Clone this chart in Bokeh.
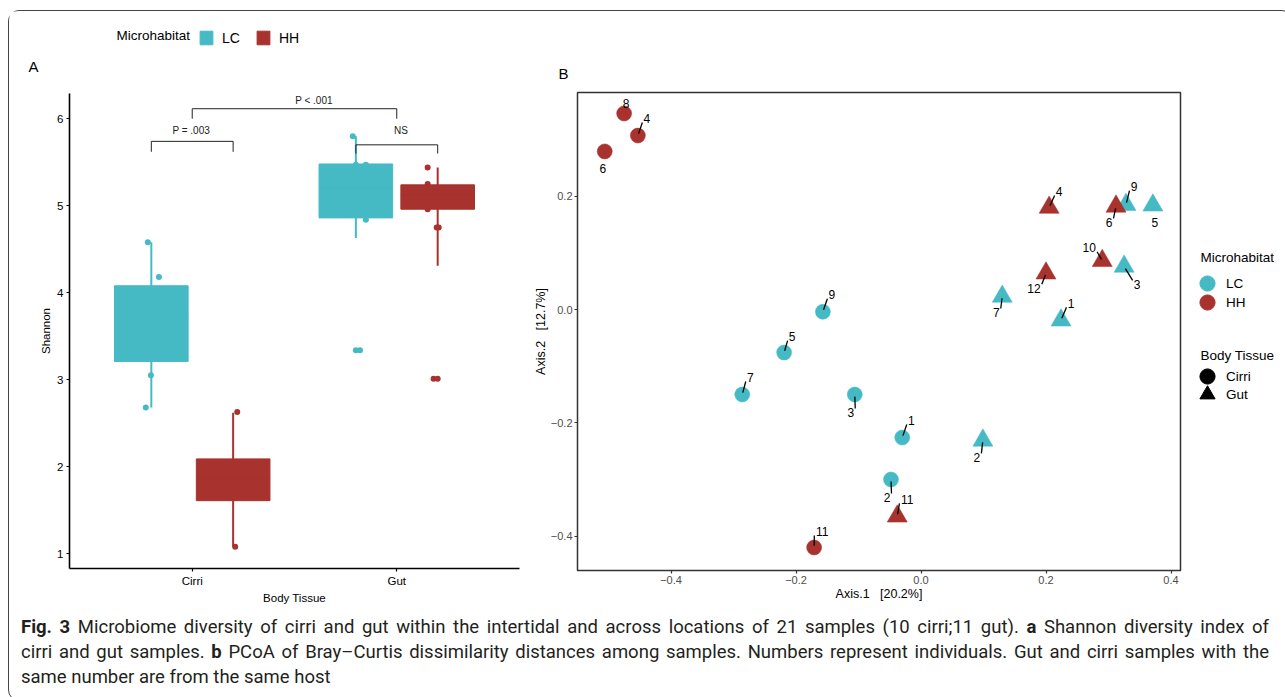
import numpy as np
from bokeh.plotting import figure
from bokeh.models import (ColumnDataSource, Range1d, FixedTicker, Legend, LegendItem,
                          Label, Div)
from bokeh.layouts import row, column
from bokeh.core.properties import value
from bokeh.embed import file_html
from bokeh.resources import INLINE

# ------------------------------------------------------------------ data
tissues = ["Cirri", "Gut"]
habitats = ["LC", "HH"]
hab_colors = ["#45BAC5", "#A8322D"]

# Panel A : Shannon boxplots
box_tissue = ["Cirri", "Cirri", "Gut", "Gut"]
box_habitat = ["LC", "HH", "LC", "HH"]
box_lower = [2.68, 1.08, 4.63, 4.31]
box_q1 = [3.21, 1.61, 4.86, 4.96]
box_median = [3.72, 1.86, 5.20, 5.12]
box_q3 = [4.08, 2.09, 5.48, 5.24]
box_upper = [4.58, 2.62, 5.80, 5.44]

pt_tissue = ["Cirri"] * 6 + ["Cirri"] * 4 + ["Gut"] * 6 + ["Gut"] * 6
pt_habitat = ["LC"] * 6 + ["HH"] * 4 + ["LC"] * 6 + ["HH"] * 6
pt_value = [4.58, 4.18, 3.78, 3.69, 3.05, 2.68,
            2.63, 1.95, 1.72, 1.08,
            5.80, 5.47, 5.47, 5.20, 4.84, 3.34,
            5.44, 5.25, 4.96, 4.75, 4.75, 3.01]
pt_jitter = [-0.017, 0.037, -0.010, 0.020, -0.002, -0.027,
             0.020, 0.000, -0.010, 0.010,
             -0.015, 0.000, 0.049, 0.020, 0.049, 0.020,
             -0.049, -0.049, -0.049, -0.005, 0.005, -0.020]

out_tissue = ["Gut", "Gut"]
out_habitat = ["LC", "HH"]
out_value = [3.34, 3.01]

sig_x0 = [0.8, 1.0, 1.8]
sig_x1 = [1.2, 2.0, 2.2]
sig_y = [5.74, 6.115, 5.70]
sig_tip = [5.62, 6.00, 5.60]
sig_text_x = [0.995, 1.595, 2.02]
sig_text_y = [5.865, 6.207, 5.865]
sig_label = ["P = .003", "P < .001", "NS"]

# Panel B : PCoA (Bray-Curtis)
pc_id = ["8", "4", "6", "9", "5", "7", "3", "1", "2", "11",
         "11", "2", "4", "9", "6", "5", "10", "3", "12", "7", "1"]
pc_habitat = ["HH", "HH", "HH", "LC", "LC", "LC", "LC", "LC", "LC", "HH",
              "HH", "LC", "HH", "LC", "HH", "LC", "HH", "LC", "HH", "LC", "LC"]
pc_tissue = ["Cirri"] * 10 + ["Gut"] * 11
pc_x = [-0.475, -0.453, -0.506, -0.157, -0.219, -0.286, -0.106, -0.030, -0.048, -0.171,
        -0.038, 0.099, 0.205, 0.328, 0.312, 0.371, 0.290, 0.325, 0.200, 0.130, 0.224]
pc_y = [0.346, 0.307, 0.279, -0.004, -0.076, -0.150, -0.150, -0.226, -0.300, -0.420,
        -0.365, -0.231, 0.180, 0.185, 0.182, 0.184, 0.086, 0.076, 0.064, 0.023, -0.019]
# label displacement (repel) in screen pixels
lab_dx = [2, 9, -2, 9, 8, 8, -4, 9, -4, 8,
          10, -6, 10, 8, -7, 2, -13, 13, -12, -6, 10]
lab_dy = [-10, -17, 17, -17, -16, -17, 18, -17, 18, -16,
          -17, 17, -16, -18, 16, 17, -13, 18, 15, 16, -17]

x_ticks = [-0.4, -0.2, 0.0, 0.2, 0.4]
x_tick_labels = ["\u22120.4", "\u22120.2", "0.0", "0.2", "0.4"]
y_ticks = [-0.4, -0.2, 0.0, 0.2]
y_tick_labels = ["\u22120.4", "\u22120.2", "0.0", "0.2"]

caption_lines = [
    "<b>Fig. 3</b> Microbiome diversity of cirri and gut within the intertidal and across locations of 21 samples (10 cirri;11 gut). <b>a</b> Shannon diversity index of",
    "cirri and gut samples. <b>b</b> PCoA of Bray\u2013Curtis dissimilarity distances among samples. Numbers represent individuals. Gut and cirri samples with the",
    "same number are from the same host",
]

# ------------------------------------------------------------------ style
FONT = "Liberation Sans"
col = dict(zip(habitats, hab_colors))
dodge = {"LC": -0.2, "HH": 0.2}
nan = np.array([np.nan])


def deco_figure(w, h):
    f = figure(width=w, height=h, x_range=Range1d(0, 1), y_range=Range1d(0, 1),
               x_axis_type=None, y_axis_type=None, output_backend="svg",
               toolbar_location=None, min_border=0)
    f.outline_line_color = None
    f.grid.visible = False
    f.frame_align = False
    return f


# ------------------------------------------------------------------ panel A header
WA = 518
decoA = deco_figure(WA, 70)
d_box = {h: decoA.vbar(x=nan, top=nan, bottom=nan, width=0.3, fill_color=col[h],
                       line_color=col[h]) for h in habitats}
legA = Legend(items=[LegendItem(label=h, renderers=[d_box[h]]) for h in habitats],
              orientation="horizontal", location=(189, 35), padding=0, margin=0,
              spacing=13, label_standoff=8, glyph_width=16, glyph_height=17,
              background_fill_alpha=0, border_line_color=None,
              label_text_font=FONT, label_text_font_size="14px", label_text_color="black")
decoA.add_layout(legA)
decoA.add_layout(Label(x=107, y=46, x_units="screen", y_units="screen", text="Microhabitat",
                       text_baseline="middle", text_font=FONT, text_font_size="13.5px",
                       text_color="black"))
decoA.add_layout(Label(x=19, y=15, x_units="screen", y_units="screen", text="A",
                       text_baseline="middle", text_font=FONT, text_font_size="15px",
                       text_color="black"))

# ------------------------------------------------------------------ panel A
HA = 525
pA = figure(width=WA, height=HA, x_range=Range1d(0.4, 2.6), y_range=Range1d(0.83, 6.29),
            output_backend="svg", toolbar_location=None,
            min_border_left=60, min_border_right=8, min_border_top=12, min_border_bottom=38)
pA.outline_line_color = None
pA.grid.visible = False
pA.frame_align = False

for h in habitats:
    c = col[h]
    ip = [i for i in range(len(pt_value)) if pt_habitat[i] == h]
    pA.scatter(x=[tissues.index(pt_tissue[i]) + 1 + dodge[h] + pt_jitter[i] for i in ip],
               y=[pt_value[i] for i in ip], size=6, color=c, line_color=None)
    io = [i for i in range(len(out_value)) if out_habitat[i] == h]
    pA.scatter(x=[tissues.index(out_tissue[i]) + 1 + dodge[h] for i in io],
               y=[out_value[i] for i in io], size=6, color=c, line_color=None)
    ib = [i for i in range(len(box_q1)) if box_habitat[i] == h]
    xs = [tissues.index(box_tissue[i]) + 1 + dodge[h] for i in ib]
    src = ColumnDataSource(dict(
        x=xs, xl=[x - 0.18 for x in xs], xr=[x + 0.18 for x in xs],
        lower=[box_lower[i] for i in ib], q1=[box_q1[i] for i in ib],
        med=[box_median[i] for i in ib], q3=[box_q3[i] for i in ib],
        upper=[box_upper[i] for i in ib]))
    pA.segment(x0="x", y0="lower", x1="x", y1="upper", source=src, line_color=c, line_width=2)
    pA.vbar(x="x", width=0.36, bottom="q1", top="q3", source=src,
            fill_color=c, line_color=c, line_width=1)
    pA.segment(x0="xl", y0="med", x1="xr", y1="med", source=src, line_color=c, line_width=1)

# significance brackets
pA.multi_line(xs=[[a, a, b, b] for a, b in zip(sig_x0, sig_x1)],
              ys=[[t, y, y, t] for y, t in zip(sig_y, sig_tip)],
              line_color="#222222", line_width=1)
pA.text(x=sig_text_x, y=sig_text_y, text=sig_label, text_align="center",
        text_baseline="middle", text_font=value(FONT), text_font_size="10px",
        text_color="#222222")

for ax in (pA.xaxis[0], pA.yaxis[0]):
    ax.axis_line_color = "black"
    ax.axis_line_width = 1.6
    ax.major_tick_line_color = "black"
    ax.major_tick_line_width = 1.2
    ax.major_tick_out = 3
    ax.major_tick_in = 0
    ax.minor_tick_line_color = None
    ax.major_label_text_font = FONT
    ax.major_label_text_font_size = "11.5px"
    ax.major_label_text_color = "black"
    ax.major_label_standoff = 3
    ax.axis_label_text_font = FONT
    ax.axis_label_text_font_size = "11.5px"
    ax.axis_label_text_font_style = "normal"
    ax.axis_label_text_color = "black"
    ax.axis_label_standoff = 2
pA.yaxis.ticker = FixedTicker(ticks=[1, 2, 3, 4, 5, 6])
pA.xaxis.ticker = FixedTicker(ticks=[i + 1 for i in range(len(tissues))])
pA.xaxis.major_label_overrides = {i + 1: t for i, t in enumerate(tissues)}
pA.xaxis.axis_label = "Body Tissue"
pA.yaxis.axis_label = "Shannon"

# ------------------------------------------------------------------ panel B header
WB = 658
decoB = deco_figure(WB, 70)
decoB.add_layout(Label(x=31, y=8, x_units="screen", y_units="screen", text="B",
                       text_baseline="middle", text_font=FONT, text_font_size="15px",
                       text_color="black"))

# ------------------------------------------------------------------ panel B
B_l, B_r, B_t, B_b = 50, 5, 11, 36
xr = (-0.5496, 0.4152)
yr = (-0.4606, 0.383)
pB = figure(width=WB, height=HA, x_range=Range1d(*xr), y_range=Range1d(*yr),
            output_backend="svg", toolbar_location=None,
            min_border_left=B_l, min_border_right=B_r, min_border_top=B_t, min_border_bottom=B_b)
pB.outline_line_color = "#333333"
pB.outline_line_width = 1.5
pB.grid.visible = False
pB.frame_align = False

marker_of = {"Cirri": "circle", "Gut": "triangle"}
size_of = {"Cirri": 15, "Gut": 20}
srcB = ColumnDataSource(dict(
    x=pc_x, y=pc_y, id=pc_id,
    color=[col[h] for h in pc_habitat],
    marker=[marker_of[t] for t in pc_tissue],
    size=[size_of[t] for t in pc_tissue],
    dx=lab_dx, dy=lab_dy))
pB.scatter(x="x", y="y", marker="marker", size="size", fill_color="color",
           line_color="color", line_alpha=0.5, source=srcB)

# repel leader segments
fx = (WB - B_l - B_r) / (xr[1] - xr[0])
fy = (HA - B_t - B_b) / (yr[1] - yr[0])
sx0, sy0, sx1, sy1 = [], [], [], []
for x, y, t, dx, dy in zip(pc_x, pc_y, pc_id, lab_dx, lab_dy):
    if abs(dx) < 4:
        continue
    hw = len(t) * 3.3 + 1.2
    ex = dx - np.sign(dx) * hw
    ey = dy - np.sign(dy) * 4
    sx0.append(x + 0.15 * ex / fx); sy0.append(y - 0.15 * ey / fy)
    sx1.append(x + ex / fx); sy1.append(y - ey / fy)
pB.segment(x0=sx0, y0=sy0, x1=sx1, y1=sy1, line_color="black", line_width=1.3)
pB.text(x="x", y="y", text="id", x_offset="dx", y_offset="dy", source=srcB,
        text_align="center", text_baseline="middle", text_font=value(FONT),
        text_font_size="12px", text_color="black")

for ax in (pB.xaxis[0], pB.yaxis[0]):
    ax.axis_line_color = None
    ax.major_tick_line_color = "#333333"
    ax.major_tick_line_width = 1.2
    ax.major_tick_out = 3
    ax.major_tick_in = 0
    ax.minor_tick_line_color = None
    ax.major_label_text_font = FONT
    ax.major_label_text_font_size = "11px"
    ax.major_label_text_color = "#4D4D4D"
    ax.major_label_standoff = 2
    ax.axis_label_text_font = FONT
    ax.axis_label_text_font_size = "12.5px"
    ax.axis_label_text_font_style = "normal"
    ax.axis_label_text_color = "black"
    ax.axis_label_standoff = 0
pB.xaxis.ticker = FixedTicker(ticks=x_ticks)
pB.xaxis.major_label_overrides = dict(zip(x_ticks, x_tick_labels))
pB.yaxis.ticker = FixedTicker(ticks=y_ticks)
pB.yaxis.major_label_overrides = dict(zip(y_ticks, y_tick_labels))
pB.xaxis.axis_label = "Axis.1\u00a0\u00a0\u00a0[20.2%]"
pB.yaxis.axis_label = "Axis.2\u00a0\u00a0\u00a0[12.7%]"

# ------------------------------------------------------------------ panel B legends
WL = 97
HL = 70 + HA
legB = deco_figure(WL, HL)
d_hab = {h: legB.scatter(x=nan, y=nan, marker="circle", color=col[h]) for h in habitats}
d_tis = {t: legB.scatter(x=nan, y=nan, marker=marker_of[t], color="black") for t in tissues}
leg_common = dict(padding=0, margin=0, glyph_width=38, glyph_height=38,
                  label_standoff=-4, background_fill_alpha=0, border_line_color=None,
                  label_text_font=FONT, label_text_font_size="13.5px", label_text_color="black")
# one legend row per key (rows 19 px apart), titles as labels
rows_hab = {"LC": 304, "HH": 285}
rows_tis = {"Cirri": 211, "Gut": 193}
for h in habitats:
    legB.add_layout(Legend(items=[LegendItem(label=h, renderers=[d_hab[h]])],
                           location=(3, rows_hab[h]), **leg_common))
for t in tissues:
    legB.add_layout(Legend(items=[LegendItem(label=t, renderers=[d_tis[t]])],
                           location=(3, rows_tis[t]), **leg_common))
for txt, yy in (("Microhabitat", 349), ("Body Tissue", 251)):
    legB.add_layout(Label(x=15, y=yy, x_units="screen", y_units="screen", text=txt,
                          text_baseline="middle", text_font=FONT, text_font_size="13.5px",
                          text_color="black"))

# ------------------------------------------------------------------ caption
line_html = []
for i, ln in enumerate(caption_lines):
    just = "justify" if i < len(caption_lines) - 1 else "left"
    line_html.append(
        f'<div style="white-space:nowrap;text-align:{just};text-align-last:{just};">{ln}</div>')
WT = WA + WB + WL
cap = Div(text=('<div style="margin:4px 10px 0 7px;width:1248px;'
                "font-family:'Roboto','Liberation Sans',sans-serif;font-size:18.5px;"
                'line-height:25px;color:#231F20;">' + "".join(line_html) + "</div>"),
          width=WT, height=84)

layout = column(row(column(decoA, pA), column(decoB, pB), legB), cap,
                styles={"border": "1.3px solid #444444", "border-radius": "11px",
                        "margin-top": "10px", "margin-left": "8px"})

open("out.html", "w").write(file_html(layout, INLINE))
